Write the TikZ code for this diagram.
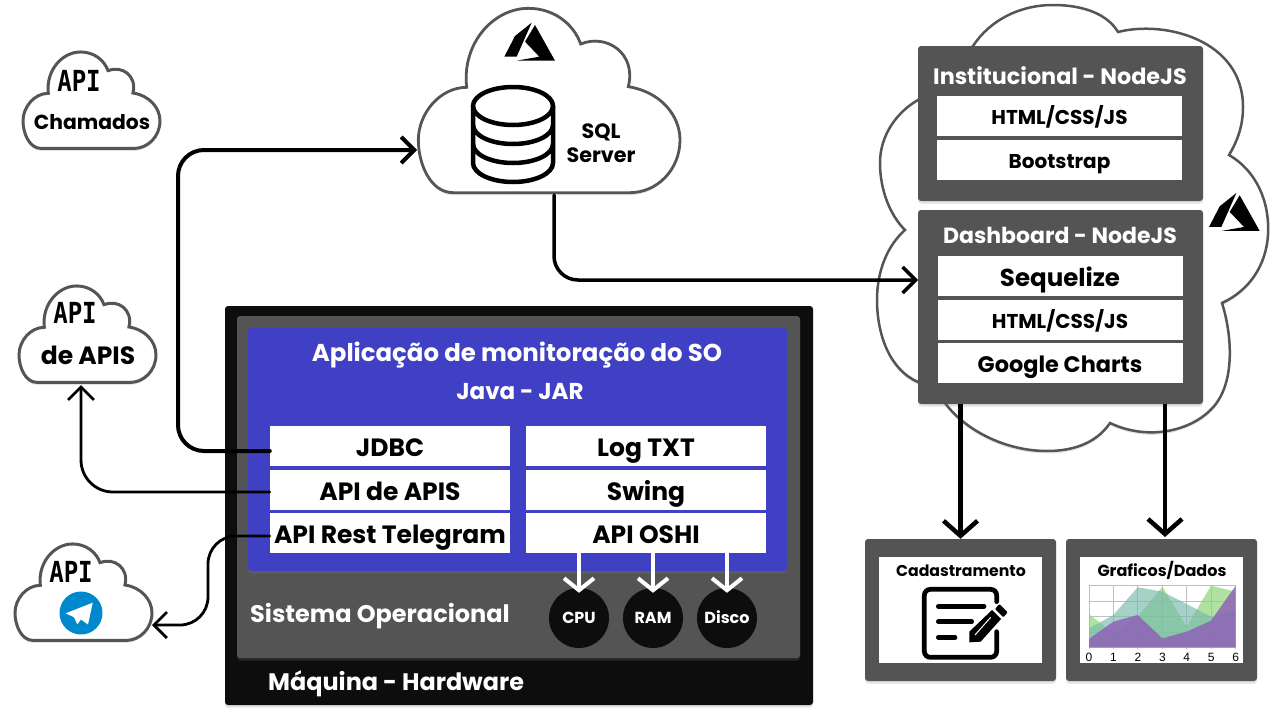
\documentclass[tikz,border=0pt]{standalone}
\usepackage{fontspec}
\setmainfont{Poppins}
\newfontfamily\apifont{DejaVu Sans Mono}
\newfontfamily\axisfont{Liberation Sans}
\usetikzlibrary{arrows.meta, shadows}
\definecolor{hwblack}{HTML}{0D0D0D}
\definecolor{sogrey}{HTML}{545454}
\definecolor{appblue}{HTML}{4040C4}
\definecolor{tgblue}{HTML}{0088CC}
\definecolor{cloudline}{HTML}{555555}
\definecolor{chartgreen}{HTML}{8ED77A}
\definecolor{chartteal}{HTML}{76B9AC}
\definecolor{chartpurple}{HTML}{8E5CB8}
\newcommand{\fs}[1]{\fontsize{#1}{#1}\selectfont\bfseries}
\tikzset{
  softshadow/.style={drop shadow={opacity=.22, shadow xshift=0pt, shadow yshift=-2.5pt}},
  panel/.style={fill=#1, rounded corners=3pt, inner sep=0pt, softshadow},
  caption/.style={font=\fs{#1}, text height={.72*#1pt}, text depth=0pt},
  boxtext/.style={font=\fs{#1}, text height={.86*#1pt}, text depth=0pt},
  whitebox/.style={fill=white, inner sep=0pt, minimum height=40pt, text=black},
  colbox/.style={whitebox, minimum width=240pt, boxtext=25},
  webbox/.style={whitebox, minimum width=245pt},
  hwcircle/.style={circle, fill=hwblack, minimum size=60pt, inner sep=0pt, text=white, caption=16},
  lbl/.style={inner sep=0pt, text=white},
  apilabel/.style={inner sep=0pt, font=\apifont\fontsize{29}{29}\selectfont\bfseries, xscale=.83, transform shape},
  flow/.style={line width=#1, line cap=round, -{Straight Barb[length=13pt, width=26pt, line width=#1]}},
  downflow/.style={line width=4.5pt, -{Straight Barb[length=15pt, width=34pt, line width=4.5pt]}},
  osflow/.style={line width=4pt, white, -{Straight Barb[length=12pt, width=30pt, line width=4pt]}},
  pics/cloudshape/.style={code={
    \draw[cloudline, line width=#1, fill=white, softshadow] (160,578) .. controls (90,578) and (55,490) .. (55,420)
      .. controls (55,340) and (120,262) .. (200,262) .. controls (185,130) and (280,25) .. (385,25)
      .. controls (460,25) and (520,70) .. (542,132) .. controls (620,100) and (710,160) .. (685,260)
      .. controls (780,275) and (840,345) .. (840,420) .. controls (840,510) and (770,578) .. (690,578) -- cycle;
  }},
  pics/azure/.style={code={
    \fill[black] (395,68) -- (345,108) -- (313,170) -- (350,170) -- cycle;
    \fill[black] (405,75) -- (375,125) -- (418,170) -- (350,182) -- (465,182) -- cycle;
  }}
}
\begin{document}
\begin{tikzpicture}[x=1pt, y=-1pt]
\useasboundingbox (0,0) rectangle (1280,720);

\draw[cloudline, line width=2.5pt, fill=white, softshadow] (973,46) .. controls (990,20) and (1020,5) .. (1053,5)
  .. controls (1085,5) and (1108,15) .. (1118,32) .. controls (1165,20) and (1243,40) .. (1243,107)
  .. controls (1243,125) and (1238,140) .. (1229,155) .. controls (1255,170) and (1270,200) .. (1268,235)
  .. controls (1266,265) and (1250,290) .. (1222,303) .. controls (1232,335) and (1235,380) .. (1215,405)
  .. controls (1195,430) and (1150,442) .. (1110,423) .. controls (1095,445) and (1070,451) .. (1047,451)
  .. controls (1005,451) and (965,430) .. (945,403) -- (918,382)
  .. controls (890,370) and (877,335) .. (877,300) .. controls (877,270) and (888,245) .. (905,230)
  .. controls (890,215) and (880,190) .. (880,163) .. controls (880,135) and (897,112) .. (918,100) -- cycle;

\pic[scale=1/3] at (400,0) {cloudshape=2.8pt};
\pic[scale=.1745] at (13.4,47.6) {cloudshape=3pt};
\pic[scale=.1745] at (9.4,281.6) {cloudshape=3pt};
\pic[scale=.1745] at (5.4,539.6) {cloudshape=3pt};

\pic[scale=1/3] at (400,0) {azure};
\pic[scale=1/3] at (1104.7,170.3) {azure};

\draw[line width=4.5pt, black] (473,106) -- (473,163) arc[start angle=180, end angle=360, x radius=40pt, y radius=19pt] -- (553,106);
\draw[line width=4.5pt, black] (513,106) ellipse[x radius=40pt, y radius=19pt];
\draw[line width=4.5pt, black] (473,125) arc[start angle=180, end angle=360, x radius=40pt, y radius=19pt];
\draw[line width=4.5pt, black] (473,144) arc[start angle=180, end angle=360, x radius=40pt, y radius=19pt];
\node[inner sep=0pt, align=center, font=\fs{20.7}, text=black] (sqlText) at (601,143) {SQL\\[3pt]Server};

\node[apilabel] (api1) at (79,81) {API};
\node[inner sep=0pt, caption=20.3] (chamados) at (92,122) {Chamados};
\node[apilabel] (api2) at (75,313) {API};
\node[inner sep=0pt, caption=25] (deApis) at (88,355) {de APIS};
\node[apilabel] (api3) at (71,572) {API};
\node[circle, fill=tgblue, minimum size=43pt, inner sep=0pt] (tgLogo) at (81,613) {};
\fill[white] (92.7,602.7) -- (65.7,613.3) -- (74,617.3) -- (77.3,624.3) -- (81,619.5) -- (88,624.5) -- cycle;

\node[panel=hwblack, minimum width=588pt, minimum height=399pt] (hw) at (519,505.5) {};
\node[panel=sogrey, minimum width=563pt, minimum height=342pt] (so) at (518.5,487) {};
\node[panel=appblue, minimum width=539pt, minimum height=243pt] (app) at (517.5,449.5) {};

\node[lbl, caption=24.4] (appTitle) at (517,353) {Aplicação de monitoração do SO};
\node[lbl, caption=23] (appJar) at (520,391) {Java - JAR};
\node[colbox] (jdbc) at (390,446) {JDBC};
\node[colbox] (apiApis) at (390,490) {API de APIS};
\node[colbox] (apiTg) at (390,533) {API Rest Telegram};
\node[colbox] (logTxt) at (646,446) {Log TXT};
\node[colbox] (swing) at (646,490) {Swing};
\node[colbox] (oshi) at (646,533) {API OSHI};
\node[lbl, anchor=west, caption=24] (soLabel) at (250,614) {Sistema Operacional};
\node[lbl, anchor=west, caption=23.9] (hwLabel) at (268,682) {Máquina - Hardware};
\node[hwcircle] (cpu) at (579,618) {CPU};
\node[hwcircle] (ram) at (653,618) {RAM};
\node[hwcircle] (disco) at (727,618) {Disco};
\draw[osflow] (oshi.south -| cpu) -- ([yshift=-5pt]cpu.north);
\draw[osflow] (oshi.south -| ram) -- ([yshift=-5pt]ram.north);
\draw[osflow] (oshi.south -| disco) -- ([yshift=-5pt]disco.north);

\node[panel=sogrey, minimum width=285pt, minimum height=155pt] (inst) at (1060.5,123.5) {};
\node[lbl, caption=22.3] (instTitle) at (1060,76) {Institucional - NodeJS};
\node[webbox, boxtext=20] (instHtml) at (1059.5,116) {HTML/CSS/JS};
\node[webbox, boxtext=20] (instBoot) at (1059.5,160) {Bootstrap};
\node[panel=sogrey, minimum width=285pt, minimum height=194pt] (dash) at (1060.5,307) {};
\node[lbl, caption=22] (dashTitle) at (1060,236) {Dashboard - NodeJS};
\node[webbox, boxtext=24.5] (dashSeq) at (1060,276) {Sequelize};
\node[webbox, boxtext=20] (dashHtml) at (1060,320) {HTML/CSS/JS};
\node[webbox, boxtext=22.4] (dashCharts) at (1060,363) {Google Charts};

\node[panel=sogrey, minimum width=191pt, minimum height=142pt] (cad) at (960.5,610) {};
\node[fill=white, inner sep=0pt, minimum width=163pt, minimum height=106.5pt] (cadIn) at (960.5,610) {};
\node[inner sep=0pt, caption=15.7] (cadText) at (961,571) {Cadastramento};
\node[panel=sogrey, minimum width=191pt, minimum height=142pt] (graf) at (1161.5,610) {};
\node[fill=white, inner sep=0pt, minimum width=163pt, minimum height=106.5pt] (grafIn) at (1161.5,610) {};
\node[inner sep=0pt, caption=16] (grafText) at (1162,571) {Graficos/Dados};

\begin{scope}[shift={(860,530)}, scale=1/3]
\draw[line width=4.7pt, rounded corners=6pt, line cap=round] (410,215) -- (410,178) -- (193,178) -- (193,382) -- (410,382) -- (410,305);
\draw[line width=4.7pt, line cap=round] (235,229) -- (372,229);
\draw[line width=4.7pt, line cap=round] (235,275) -- (335,275);
\draw[line width=4.7pt, line cap=round] (235,322) -- (285,322);
\fill[rounded corners=1pt] (418,222) -- (443,247) -- (430,262) -- (405,237) -- cycle;
\fill (396,240) -- (423,267) -- (362,335) -- (328,337) -- (328,305) -- cycle;
\draw[white, line width=1pt] (345,315) -- (392,262);
\foreach \gy in {167,213,260,306,352} \draw[black!25, line width=1pt] (687,\gy) -- (1127,\gy);
\foreach \gx in {687,760.3,833.7,907,980.3,1053.7,1127} \draw[black!25, line width=1pt] (\gx,167) -- (\gx,358);
\fill[chartgreen, opacity=.7] (687,352) -- (687,252) -- (760,310) -- (833,260) -- (907,170) -- (980,290) -- (1053,167) -- (1127,185) -- (1127,352) -- cycle;
\fill[chartteal, opacity=.65] (687,352) -- (687,295) -- (760,255) -- (833,172) -- (907,185) -- (980,222) -- (1053,260) -- (1127,240) -- (1127,352) -- cycle;
\fill[chartpurple, opacity=.8] (687,352) -- (687,327) -- (760,275) -- (833,255) -- (907,325) -- (980,305) -- (1053,272) -- (1127,167) -- (1127,352) -- cycle;
\foreach \n/\gx in {0/687,1/760.3,2/833.7,3/907,4/980.3,5/1053.7,6/1127}
  \node[inner sep=0pt, text=black, font=\axisfont\fontsize{12}{12}\selectfont] (axis\n) at (\gx,381) {\n};
\end{scope}

\coordinate (sqlIn) at (417,150);
\coordinate (sqlOut) at (554,195);
\coordinate (dashIn) at (918,280);
\coordinate (apisIn) at (81,385);
\coordinate (tgIn) at (152,625);
\coordinate (dashOut) at (1165,404);
\coordinate (grafTop) at (1165,537);

\draw[flow=4pt, rounded corners=26pt] ([yshift=-5pt]jdbc.west) -- (178,451) -- (178,150) -- (sqlIn);
\draw[flow=3.5pt, rounded corners=24pt] (sqlOut) -- (554,280) -- (dashIn);
\draw[flow=2.8pt, rounded corners=32pt] ([yshift=-2pt]apiApis.west) -- (81,492) -- (apisIn);
\draw[flow=2.8pt, rounded corners=28pt] ([yshift=-3pt]apiTg.west) -- (208,536) -- (208,625) -- (tgIn);
\draw[downflow] (cad.north |- dash.south) -- (cad.north);
\draw[downflow] (dashOut) -- (grafTop);
\end{tikzpicture}
\end{document}
